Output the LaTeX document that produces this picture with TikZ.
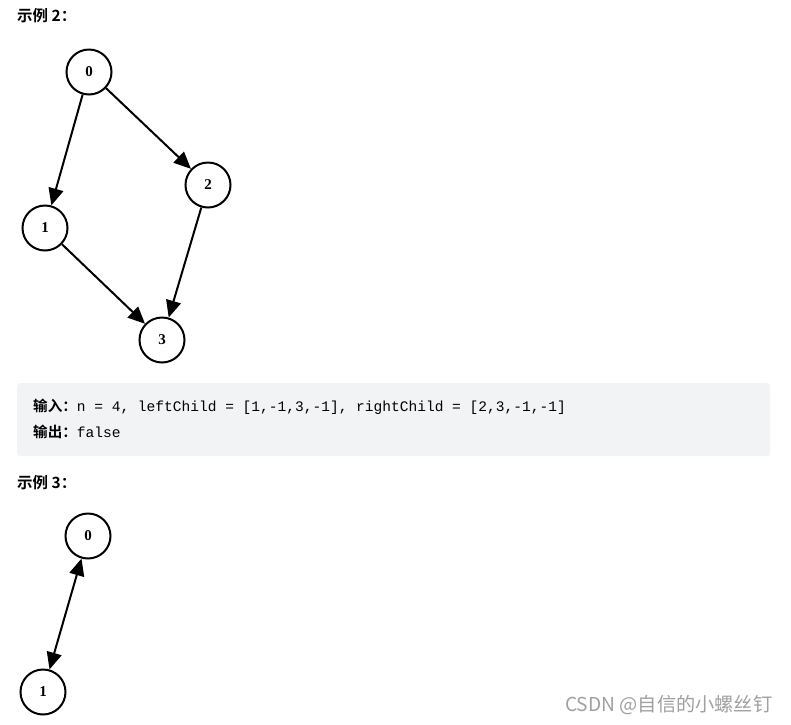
\documentclass[tikz,border=0pt]{standalone}
\usepackage{fontspec}
\setmainfont{Liberation Serif}
\newfontfamily\cjkb{Noto Sans CJK SC Bold}
\newfontfamily\cjk{Noto Sans CJK SC}
\newfontfamily\codefont{Liberation Mono}
\usetikzlibrary{arrows.meta}
\definecolor{codebg}{RGB}{242,243,245}
\definecolor{wm}{RGB}{160,160,160}
\begin{document}
\begin{tikzpicture}[x=1pt,y=-1pt,
  vtx/.style={circle,draw,line width=2pt,minimum size=45pt,inner sep=0pt,font=\fontsize{15}{15}\selectfont\bfseries},
  edge/.style={line width=2pt,-{Triangle[length=17pt,width=15pt]}},
  bedge/.style={line width=2pt,{Triangle[length=17pt,width=15pt]}-{Triangle[length=17pt,width=15pt]}},
  title/.style={anchor=west,inner sep=0pt,font=\cjkb\fontsize{15.5}{15}\selectfont},
  code/.style={anchor=west,inner sep=0pt,font=\codefont\fontsize{14.55}{14}\selectfont}]
\useasboundingbox[fill=white] (0,0) rectangle (791,724);
\node[title] (t2) at (17,16) {示例 2：};
\node[vtx] (a0) at (89,72) {0};
\node[vtx] (a2) at (208,185) {2};
\node[vtx] (a1) at (45,228) {1};
\node[vtx] (a3) at (162,340) {3};
\draw[edge] (a0) -- (a1);
\draw[edge] (a0) -- (a2);
\draw[edge] (a1) -- (a3);
\draw[edge] (a2) -- (a3);
\node[fill=codebg,rounded corners=3pt,minimum width=753pt,minimum height=73pt,anchor=north west,inner sep=0pt] (box) at (17,383) {};
\node[code] (in) at (33,407) {{\cjkb 输入：}n = 4, leftChild = [1,-1,3,-1], rightChild = [2,3,-1,-1]};
\node[code] (out) at (33,432) {{\cjkb 输出：}false};
\node[title] (t3) at (17,483) {示例 3：};
\node[vtx] (b0) at (88,536) {0};
\node[vtx] (b1) at (43,692) {1};
\draw[bedge] (b0) -- (b1);
\node[anchor=west,inner sep=0pt,text=wm,font=\cjk\fontsize{19.2}{19}\selectfont] (wmk) at (565,705) {CSDN @自信的小螺丝钉};
\end{tikzpicture}
\end{document}
